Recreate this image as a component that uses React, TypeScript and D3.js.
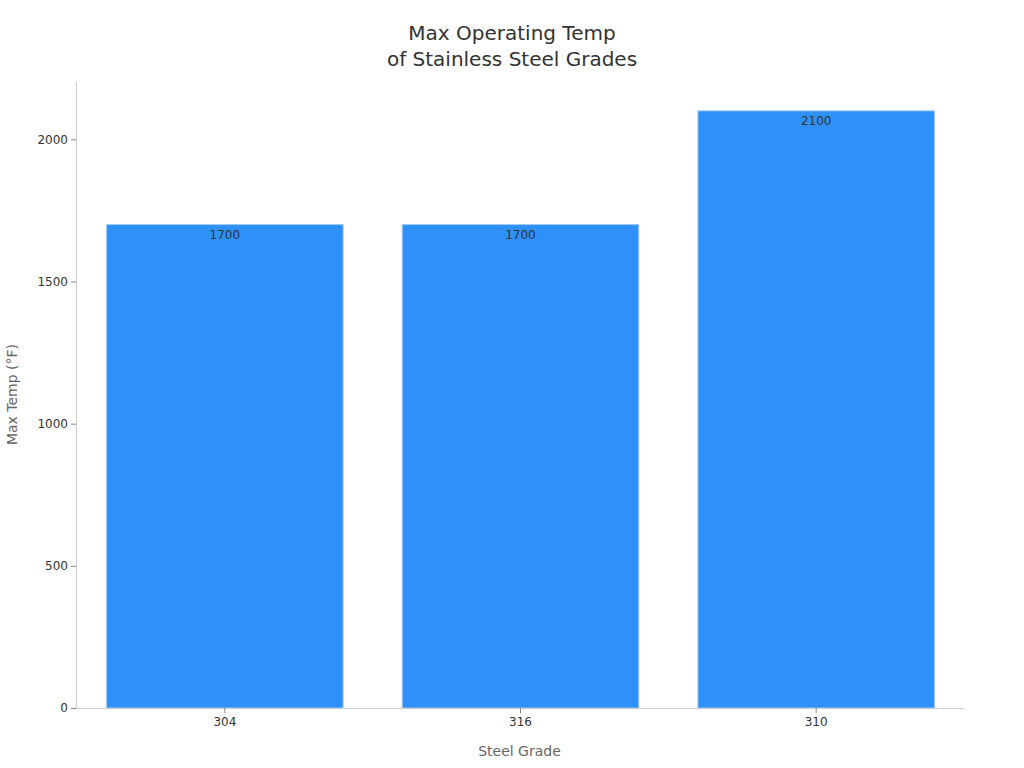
import React, { useEffect, useRef } from 'react';
import * as d3 from 'd3';

const grades = ['304', '316', '310'];
const maxTemps = [1700, 1700, 2100];
const yTicks = [0, 500, 1000, 1500, 2000];

const W = 1024;
const H = 768;
const margin = { top: 81, right: 61, bottom: 60, left: 76 };
const FONT = '"DejaVu Sans", sans-serif';

export default function App() {
  const svgRef = useRef<SVGSVGElement>(null);

  useEffect(() => {
    if (!svgRef.current) return;
    const svg = d3.select(svgRef.current);
    svg.selectAll('*').remove();

    const x = d3.scaleBand<string>()
      .domain(grades)
      .range([margin.left + 1, W - margin.right + 1])
      .paddingInner(0.2)
      .paddingOuter(0.1);

    const y = d3.scaleLinear()
      .domain([0, 2205])
      .range([H - margin.bottom, margin.top]);

    // title
    const title = svg.append('text')
      .attr('x', 512)
      .attr('text-anchor', 'middle')
      .attr('font-family', FONT)
      .attr('font-size', 20)
      .attr('fill', '#333');
    title.append('tspan').attr('x', 512).attr('y', 40).text('Max Operating Temp');
    title.append('tspan').attr('x', 512).attr('y', 66).text('of Stainless Steel Grades');

    // bars
    const data = grades.map((g, i) => ({ g, v: maxTemps[i] }));
    svg.append('g')
      .selectAll('rect')
      .data(data)
      .join('rect')
      .attr('x', d => x(d.g)!)
      .attr('y', d => y(d.v))
      .attr('width', x.bandwidth())
      .attr('height', d => y(0) - y(d.v))
      .attr('fill', '#2e90f9')
      .attr('stroke', '#9cc8f5')
      .attr('stroke-width', 1);

    svg.append('g')
      .selectAll('text')
      .data(data)
      .join('text')
      .attr('x', d => x(d.g)! + x.bandwidth() / 2)
      .attr('y', d => y(d.v) + 14)
      .attr('text-anchor', 'middle')
      .attr('font-family', FONT)
      .attr('font-size', 12)
      .attr('fill', '#333')
      .text(d => d.v);

    // y axis
    const yAxis = svg.append('g')
      .attr('transform', `translate(${margin.left},0)`)
      .call(d3.axisLeft(y).tickValues(yTicks).tickFormat(d3.format('d')).tickSize(5).tickSizeOuter(0).tickPadding(3));
    yAxis.select('.domain').attr('stroke', '#ccc');
    yAxis.selectAll('.tick line').attr('stroke', '#888');
    yAxis.selectAll('.tick text')
      .attr('font-family', FONT)
      .attr('font-size', 12)
      .attr('fill', '#333');

    // x axis
    const xAxis = svg.append('g')
      .attr('transform', `translate(0,${H - margin.bottom})`)
      .call(d3.axisBottom(x).tickSize(5).tickPadding(4).tickSizeOuter(0));
    xAxis.select('.domain').attr('stroke', '#ccc');
    xAxis.selectAll('.tick line').attr('stroke', '#888');
    xAxis.selectAll('.tick text')
      .attr('font-family', FONT)
      .attr('font-size', 12)
      .attr('fill', '#333');

    // axis titles
    svg.append('text')
      .attr('x', (margin.left + W - margin.right) / 2)
      .attr('y', 756)
      .attr('text-anchor', 'middle')
      .attr('font-family', FONT)
      .attr('font-size', 14)
      .attr('fill', '#666')
      .text('Steel Grade');

    svg.append('text')
      .attr('transform', `translate(17,${(margin.top + H - margin.bottom) / 2}) rotate(-90)`)
      .attr('text-anchor', 'middle')
      .attr('font-family', FONT)
      .attr('font-size', 14)
      .attr('fill', '#666')
      .text('Max Temp (°F)');
  }, []);

  return (
    <svg
      ref={svgRef}
      width={W}
      height={H}
      style={{ position: 'absolute', left: 0, top: 0, background: '#fff' }}
    />
  );
}
